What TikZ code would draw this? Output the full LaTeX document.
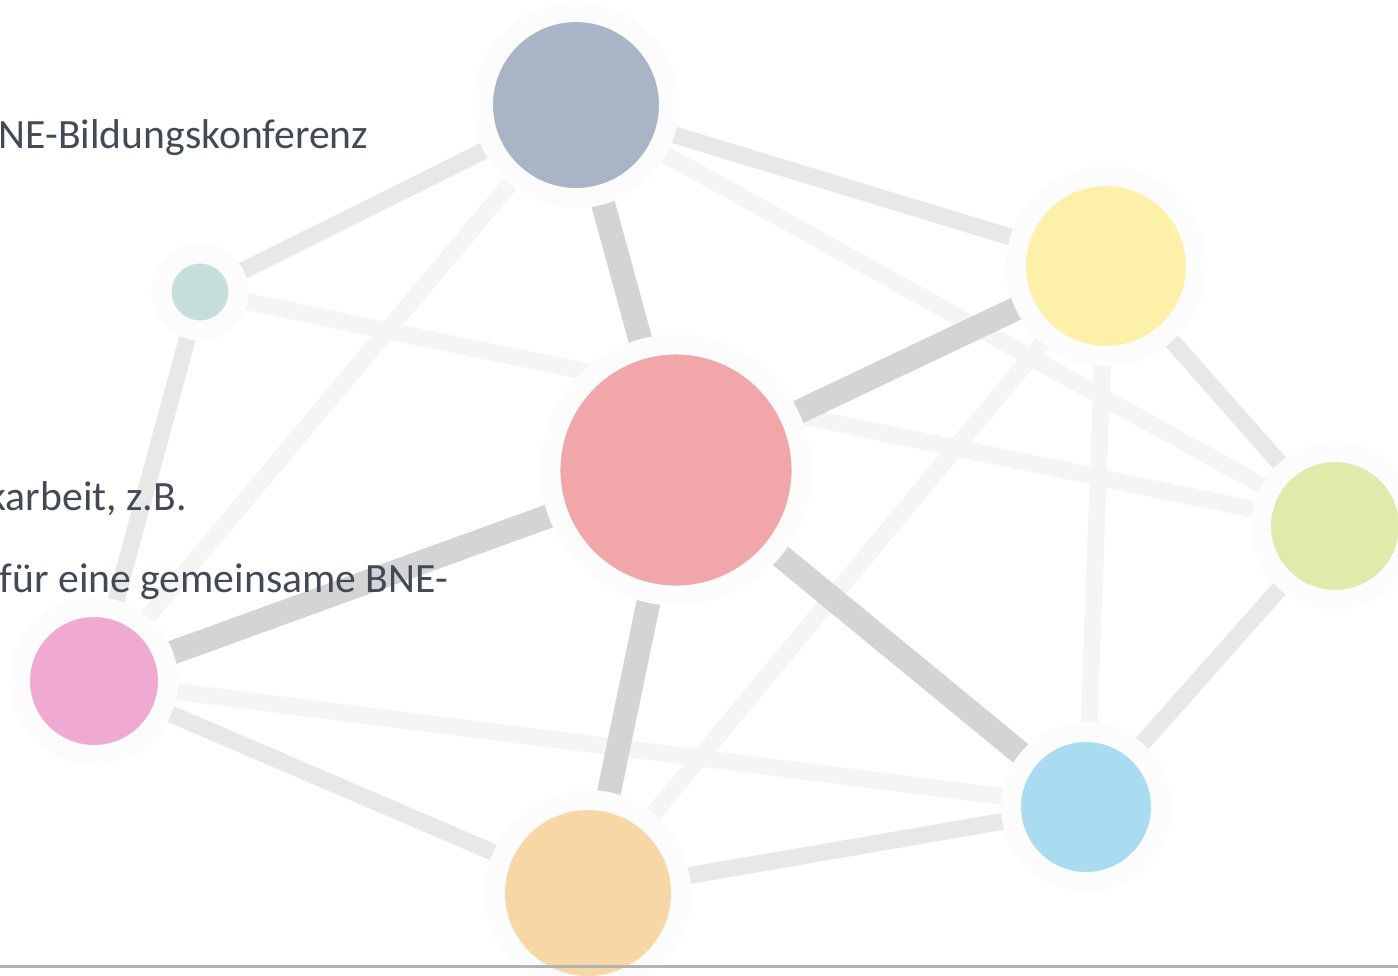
\documentclass[tikz,border=0pt]{standalone}
\usepackage{fontspec}
\setmainfont{Carlito}
\usetikzlibrary{backgrounds}
\definecolor{halo}{HTML}{FCFCFC}
\definecolor{tiedark}{HTML}{D4D4D4}
\definecolor{tiemid}{HTML}{E8E8E8}
\definecolor{tielight}{HTML}{F5F5F5}
\definecolor{textgray}{HTML}{434A56}
\definecolor{cTop}{HTML}{A9B5C7}
\definecolor{cTeal}{HTML}{C4DFDA}
\definecolor{cYellow}{HTML}{FDF0A8}
\definecolor{cRed}{HTML}{F1A7AA}
\definecolor{cGreen}{HTML}{E1EAAA}
\definecolor{cPink}{HTML}{F0A9D0}
\definecolor{cOrange}{HTML}{F7D7A6}
\definecolor{cBlue}{HTML}{A9DBF1}
\begin{document}
\begin{tikzpicture}[x=0.01cm,y=-0.01cm,
    dot/.style={circle,inner sep=0pt,outer sep=0pt,draw=halo,line width=5.7pt,fill=#1},
    strongtie/.style={draw=tiedark,line width=6.8pt},
    midtie/.style={draw=tiemid,line width=4.8pt},
    faintie/.style={draw=tielight,line width=4.8pt},
    txt/.style={anchor=base west,inner sep=0pt,text=textgray,font=\fontsize{11.85}{14}\selectfont}]
    \useasboundingbox (0,0) rectangle (1398,975);
    \clip (0,0) rectangle (1398,975);
    % bubbles
    \node[dot=cTop,minimum size=1.86cm] (top) at (576,105) {};
    \node[dot=cTeal,minimum size=0.77cm] (teal) at (200,292) {};
    \node[dot=cYellow,minimum size=1.80cm] (yellow) at (1106,266) {};
    \node[dot=cRed,minimum size=2.51cm] (red) at (676,470) {};
    \node[dot=cGreen,minimum size=1.48cm] (green) at (1335,526) {};
    \node[dot=cPink,minimum size=1.48cm] (pink) at (94,681) {};
    \node[dot=cOrange,minimum size=1.86cm] (orange) at (588,893) {};
    \node[dot=cBlue,minimum size=1.50cm] (blue) at (1086,807) {};
    % ties, behind the bubbles
    \begin{scope}[on background layer]
        \fill[white] (0,0) rectangle (1398,975);
        \draw[faintie] (top) -- (pink);
        \draw[faintie] (top) -- (green);
        \draw[faintie] (teal) -- (green);
        \draw[faintie] (pink) -- (blue);
        \draw[faintie] (orange) -- (yellow);
        \draw[faintie] (yellow) -- (blue);
        \draw[midtie] (top) -- (teal);
        \draw[midtie] (top) -- (yellow);
        \draw[midtie] (teal) -- (pink);
        \draw[midtie] (pink) -- (orange);
        \draw[midtie] (orange) -- (blue);
        \draw[midtie] (yellow) -- (green);
        \draw[midtie] (green) -- (blue);
        \draw[strongtie] (red) -- (top);
        \draw[strongtie] (red) -- (yellow);
        \draw[strongtie] (red) -- (pink);
        \draw[strongtie] (red) -- (orange);
        \draw[strongtie] (red) -- (blue);
    \end{scope}
    % text
    \node[txt] (line1) at (-2,148) {NE-Bildungskonferenz};
    \node[txt] (line2) at (-13,510) {karbeit, z.B.};
    \node[txt] (line3) at (-1,592) {für eine gemeinsame BNE-};
    \coordinate (rulel) at (0,966.5);
    \coordinate (ruler) at (1398,966.5);
    \draw[draw=black!30,line width=0.6pt] (rulel) -- (ruler);
\end{tikzpicture}
\end{document}
